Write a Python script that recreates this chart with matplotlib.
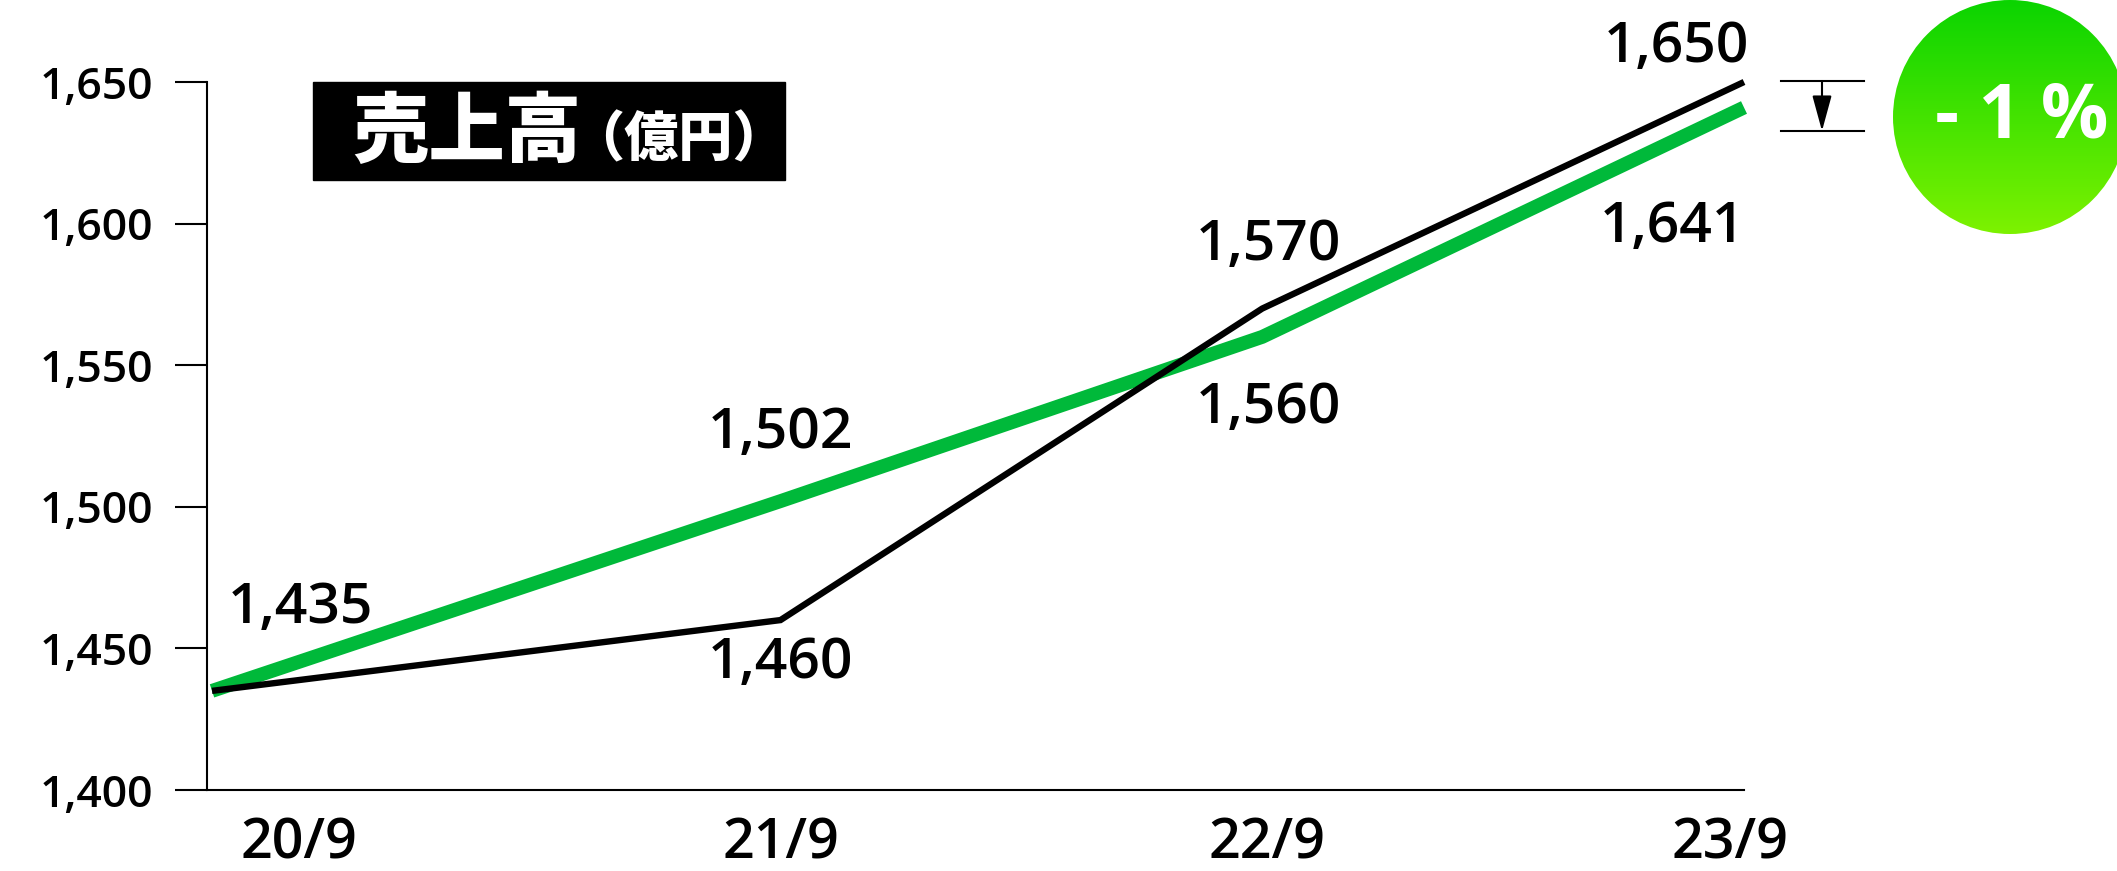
import numpy as np
import matplotlib
matplotlib.use('Agg')
import matplotlib.pyplot as plt
from matplotlib.patches import Rectangle, Circle

plt.rcParams['font.family'] = ['Open Sans', 'Noto Sans', 'Noto Sans CJK JP', 'DejaVu Sans']
plt.rcParams['font.weight'] = 'semibold'

# 売上高 (億円)
periods = ['20/9', '21/9', '22/9', '23/9']
sales_green = [1435, 1502, 1560, 1641]
sales_black = [1435, 1460, 1570, 1650]
yticks = [1400, 1450, 1500, 1550, 1600, 1650]
change_text = '- 1 %'

# category positions (first period sits on the axis)
xpos = [0.0, 1.18, 2.18, 3.18]
label_pos = [0.18, 1.18, 2.19, 3.15]

# value label offsets in pixels: (dx, dy), dy up
green_offsets = [(88, 68), (0, 53), (6, -86), (-72, -135)]
black_offsets = [None, (0, -58), (6, 49), (-68, 20)]

W, H = 2117, 871
fig = plt.figure(figsize=(W / 100, H / 100), dpi=100)
ax = fig.add_axes([207 / W, 81 / H, 1537 / W, 708 / H])

ax.plot(xpos, sales_green, color='#00B93A', lw=10, solid_capstyle='butt',
        solid_joinstyle='miter', clip_on=False, zorder=2)
ax.plot(xpos, sales_black, color='black', lw=4.6, solid_capstyle='butt',
        solid_joinstyle='miter', clip_on=False, zorder=3)

ax.set_xlim(-0.0104, 3.18)
ax.set_ylim(1400, 1650)
ax.set_yticks(yticks)
ax.set_yticklabels([f'{v:,}' for v in yticks], fontsize=32)
ax.tick_params(axis='y', length=23, width=1.5, pad=16, color='black')
ax.set_xticks(label_pos)
ax.set_xticklabels(periods, fontsize=40)
ax.tick_params(axis='x', length=0, pad=19)
for s in ['top', 'right']:
    ax.spines[s].set_visible(False)
for s in ['left', 'bottom']:
    ax.spines[s].set_linewidth(1.5)

for series, offs in [(sales_green, green_offsets), (sales_black, black_offsets)]:
    for x, v, off in zip(xpos, series, offs):
        if off is None:
            continue
        ax.annotate(f'{v:,}', (x, v), xytext=off, textcoords='offset pixels',
                    ha='center', va='baseline', fontsize=41, annotation_clip=False)

# overlay in pixel coordinates for the title box, change badge and arrow
ov = fig.add_axes([0, 0, 1, 1], zorder=5)
ov.set_xlim(0, W)
ov.set_ylim(H, 0)
ov.axis('off')

ov.add_patch(Rectangle((313, 82), 472, 98, color='black'))
ov.text(352, 133, '売上高', color='white', fontsize=55, fontweight='heavy',
        family=['Noto Sans CJK JP'], ha='left', va='center')
ov.text(570, 140, '（億円）', color='white', fontsize=39, fontweight='heavy',
        family=['Noto Sans CJK JP'], ha='left', va='center')

# gradient circle
cx, cy, r = 2010, 117, 117
grad = np.linspace(0, 1, 256)[:, None]
top = np.array([10, 212, 0]) / 255
bot = np.array([125, 242, 0]) / 255
img = top + (bot - top) * grad[..., None] * np.ones((1, 2, 1))
im = ov.imshow(img, extent=(cx - r, cx + r, cy + r, cy - r), aspect='auto',
               interpolation='bilinear', zorder=1)
clip = Circle((cx, cy), r, transform=ov.transData)
im.set_clip_path(clip)
ov.set_xlim(0, W)
ov.set_ylim(H, 0)
ov.text(2022, 118, change_text, color='white', fontsize=54, fontweight='bold',
        ha='center', va='center', zorder=2)

# drop indicator between the two end values
ov.plot([1781, 1864], [81, 81], color='black', lw=1.5)
ov.plot([1781, 1864], [131, 131], color='black', lw=1.5)
ov.annotate('', xy=(1822, 131), xytext=(1822, 81),
            arrowprops=dict(arrowstyle='-|>,head_length=1.1,head_width=0.3',
                            mutation_scale=20, color='black', lw=1.5,
                            shrinkA=0, shrinkB=0))

fig.savefig('out.png', dpi=100)
